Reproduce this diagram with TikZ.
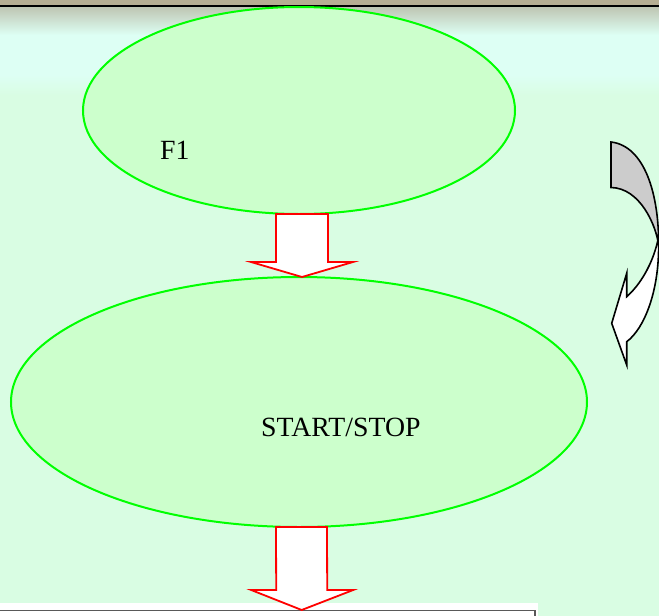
\documentclass[tikz,border=0pt]{standalone}
\usepackage{fontspec}
\setmainfont{Liberation Serif}
\usetikzlibrary{shapes.geometric,calc}
\definecolor{mint}{HTML}{D9FDE3}
\definecolor{cyanband}{HTML}{DDFFF4}
\definecolor{tanbar}{HTML}{B6AE93}
\definecolor{greyband}{HTML}{BFC6B3}
\definecolor{efill}{HTML}{CCFFCC}
\definecolor{eline}{HTML}{00FF00}
\definecolor{cgrey}{HTML}{CCCCCC}
\tikzset{
  oval/.style={ellipse, draw=eline, fill=efill, line width=2pt, inner sep=0pt, outer sep=0pt},
  lbl/.style={anchor=base west, inner sep=0pt, font=\fontsize{27.8}{33}\selectfont},
  blockarrow/.style={draw=red, fill=white, line width=1.8pt, line join=miter},
  curvearrow/.style={draw=black, line width=1.6pt, line join=miter},
}
\begin{document}
\begin{tikzpicture}[x=1pt,y=-1pt]
\useasboundingbox (0,0) rectangle (659,616);
% background
\fill[mint] (0,0) rectangle (659,616);
\shade[top color=cyanband, bottom color=mint] (0,75) rectangle (659,95);
\fill[cyanband] (0,30) rectangle (659,76);
\shade[top color=greyband, bottom color=cyanband] (0,7) rectangle (659,35);
\fill[tanbar] (0,0) rectangle (659,6);
\draw[black, line width=2pt] (0,6) -- (659,6);
% bottom box
\fill[white] (0,603) rectangle (538,616);
\node[draw=gray!70!black, line width=1.5pt, fill=white, anchor=north west, minimum width=540pt, minimum height=12pt, inner sep=0pt] (box) at (-6,609.5) {};
% ovals
\node[oval, minimum width=432pt, minimum height=207pt] (e1) at (299,110.5) {};
\node[oval, minimum width=576pt, minimum height=250pt] (e2) at (299,402) {};
\node[lbl] (t1) at (160,159) {F1};
\node[lbl] (t2) at (261,436) {START/STOP};
% block arrows
\draw[blockarrow] ($(e1.south)+(-23,0)$) -- ($(e1.south)+(29,0)$) -- ($(e2.north)+(29,-15)$) -- ($(e2.north)+(54,-15)$) -- ($(e2.north)+(3,0)$) -- ($(e2.north)+(-48,-15)$) -- ($(e2.north)+(-23,-15)$) -- cycle;
\coordinate (tip2) at (301.7,610);
\draw[blockarrow] ($(e2.south)+(-23,0)$) -- ($(e2.south)+(28,0)$) -- ($(tip2)+(25.5,-20)$) -- ($(tip2)+(51.5,-20)$) -- (tip2) -- ($(tip2)+(-50.5,-20)$) -- ($(tip2)+(-25.5,-20)$) -- cycle;
% curved arrow
\draw[curvearrow, fill=cgrey] (611,142) .. controls (645,146) and (659,195) .. (658.6,245)
  .. controls (656,225) and (640,188) .. (611,187.5) -- cycle;
\draw[curvearrow, fill=white] (657.5,242) .. controls (652,265) and (640,285) .. (626.7,296.7)
  -- (626.7,273.3) -- (611.7,323.3) -- (626.7,365) -- (626.7,341.7)
  .. controls (645,328) and (659,290) .. (658.6,245) -- cycle;
\end{tikzpicture}
\end{document}
